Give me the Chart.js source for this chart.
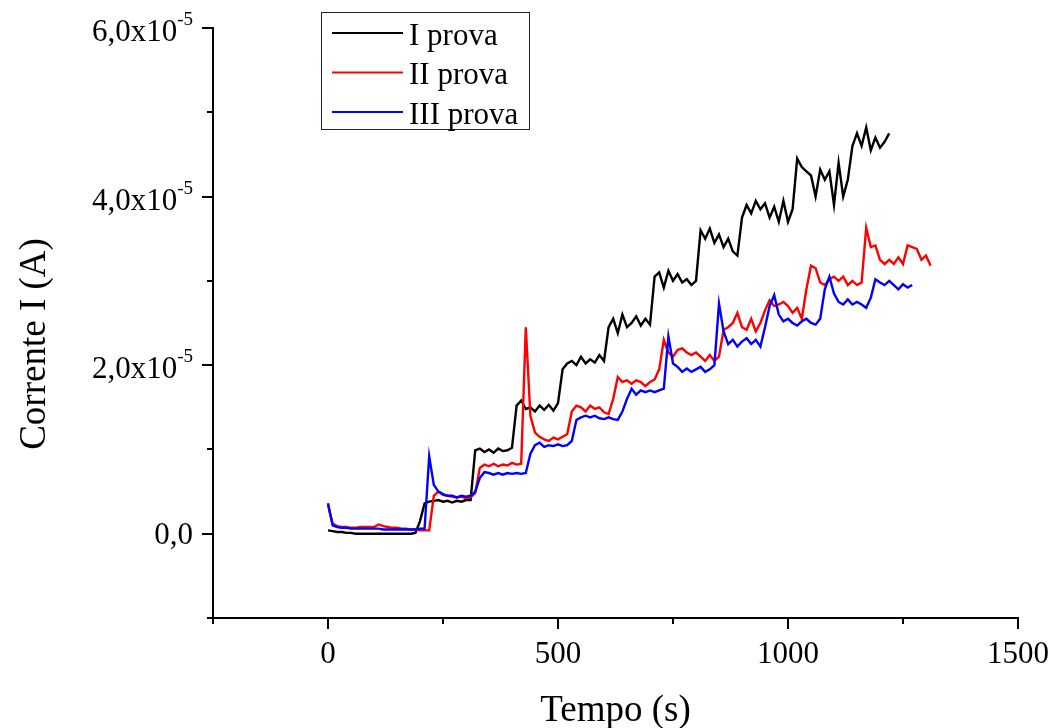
<!DOCTYPE html>
<html>
<head>
<meta charset="utf-8">
<script src="https://cdn.jsdelivr.net/npm/chart.js@4"></script>
<style>
  html, body { margin: 0; padding: 0; background: #fff; }
  #wrap { width: 1051px; height: 728px; }
</style>
</head>
<body>
<div id="wrap"><canvas id="chart" width="1051" height="728"></canvas></div>
<script>
// time (s), shared by the three runs
var tempo = [
  0, 10, 20, 30, 40, 50, 60, 70, 80, 90,
  100, 110, 120, 130, 140, 150, 160, 170, 180, 190,
  200, 210, 220, 230, 240, 250, 260, 270, 280, 290,
  300, 310, 320, 330, 340, 350, 360, 370, 380, 390,
  400, 410, 420, 430, 440, 450, 460, 470, 480, 490,
  500, 510, 520, 530, 540, 550, 560, 570, 580, 590,
  600, 610, 620, 630, 640, 650, 660, 670, 680, 690,
  700, 710, 720, 730, 740, 750, 760, 770, 780, 790,
  800, 810, 820, 830, 840, 850, 860, 870, 880, 890,
  900, 910, 920, 930, 940, 950, 960, 970, 980, 990,
  1000, 1010, 1020, 1030, 1040, 1050, 1060, 1070, 1080, 1090,
  1100, 1110, 1120, 1130, 1140, 1150, 1160, 1170, 1180, 1190,
  1200, 1210, 1220, 1230, 1240, 1250, 1260, 1270, 1280, 1290,
  1300, 1310
];
// corrente, in units of 1e-5 A
var provaI = [
  0.04, 0.03, 0.02, 0.02, 0.01, 0.01, 0.00, 0.00, 0.00, 0.00,
  0.00, 0.00, 0.00, 0.00, 0.00, 0.00, 0.00, 0.00, 0.00, 0.01,
  0.15, 0.36, 0.38, 0.39, 0.40, 0.38, 0.39, 0.37, 0.39, 0.38,
  0.40, 0.40, 0.99, 1.01, 0.97, 1.00, 0.96, 1.01, 0.98, 0.99,
  1.02, 1.52, 1.58, 1.48, 1.50, 1.45, 1.52, 1.47, 1.53, 1.46,
  1.55, 1.95, 2.02, 2.05, 2.00, 2.10, 2.02, 2.07, 2.03, 2.12,
  2.05, 2.45, 2.55, 2.38, 2.60, 2.45, 2.50, 2.58, 2.47, 2.55,
  2.48, 3.05, 3.10, 2.92, 3.12, 3.00, 3.08, 2.98, 3.02, 2.95,
  3.00, 3.60, 3.50, 3.62, 3.45, 3.55, 3.40, 3.50, 3.35, 3.30,
  3.75, 3.90, 3.80, 3.95, 3.85, 3.92, 3.75, 3.88, 3.70, 3.95,
  3.70, 3.85, 4.45, 4.35, 4.30, 4.25, 4.00, 4.32, 4.20, 4.30,
  3.90, 4.40, 4.00, 4.20, 4.60, 4.75, 4.60, 4.82, 4.55, 4.70,
  4.58, 4.65, 4.75
];
var provaII = [
  0.34, 0.12, 0.09, 0.08, 0.08, 0.07, 0.07, 0.08, 0.08, 0.08,
  0.08, 0.11, 0.09, 0.08, 0.07, 0.07, 0.06, 0.06, 0.05, 0.05,
  0.04, 0.04, 0.04, 0.45, 0.50, 0.46, 0.45, 0.44, 0.43, 0.44,
  0.42, 0.43, 0.48, 0.78, 0.82, 0.80, 0.83, 0.80, 0.82, 0.81,
  0.84, 0.82, 0.83, 2.45, 1.40, 1.20, 1.15, 1.12, 1.10, 1.14,
  1.12, 1.15, 1.18, 1.45, 1.52, 1.50, 1.45, 1.52, 1.48, 1.50,
  1.44, 1.42, 1.60, 1.86, 1.80, 1.82, 1.78, 1.82, 1.80, 1.75,
  1.80, 1.83, 1.95, 2.30, 2.15, 2.10, 2.18, 2.20, 2.15, 2.12,
  2.15, 2.10, 2.05, 2.12, 2.05, 2.10, 2.42, 2.45, 2.50, 2.62,
  2.45, 2.42, 2.55, 2.40, 2.50, 2.65, 2.77, 2.70, 2.72, 2.75,
  2.70, 2.62, 2.68, 2.55, 2.90, 3.18, 3.15, 2.98, 2.95, 3.02,
  3.05, 3.00, 3.05, 2.95, 3.00, 2.95, 2.98, 3.63, 3.40, 3.42,
  3.25, 3.20, 3.25, 3.20, 3.28, 3.20, 3.42, 3.40, 3.38, 3.25,
  3.30, 3.18
];
var provaIII = [
  0.36, 0.10, 0.08, 0.07, 0.07, 0.06, 0.06, 0.06, 0.06, 0.06,
  0.06, 0.06, 0.05, 0.05, 0.05, 0.05, 0.05, 0.05, 0.05, 0.05,
  0.06, 0.06, 0.92, 0.58, 0.50, 0.47, 0.45, 0.45, 0.43, 0.45,
  0.44, 0.45, 0.50, 0.66, 0.73, 0.72, 0.70, 0.72, 0.70, 0.72,
  0.71, 0.72, 0.71, 0.72, 0.95, 1.05, 1.08, 1.03, 1.05, 1.04,
  1.06, 1.04, 1.05, 1.10, 1.35, 1.38, 1.40, 1.38, 1.40, 1.37,
  1.36, 1.38, 1.36, 1.35, 1.45, 1.60, 1.72, 1.65, 1.70, 1.68,
  1.70, 1.68, 1.70, 1.72, 2.34, 2.02, 1.98, 1.92, 1.96, 1.92,
  1.95, 1.98, 1.92, 1.95, 2.00, 2.73, 2.40, 2.25, 2.30, 2.22,
  2.28, 2.32, 2.25, 2.30, 2.22, 2.45, 2.70, 2.83, 2.60, 2.52,
  2.55, 2.50, 2.47, 2.52, 2.55, 2.50, 2.48, 2.55, 2.90, 3.05,
  2.85, 2.75, 2.72, 2.78, 2.72, 2.75, 2.72, 2.68, 2.80, 3.02,
  2.98, 2.95, 3.00, 2.95, 2.90, 2.96, 2.92, 2.95
];
var seriesNames = ["I prova", "II prova", "III prova"];
var seriesColors = ["#000000", "#ff0000", "#0000ff"];
var xTicks = [-250, 0, 250, 500, 750, 1000, 1250, 1500];
var xLabels = {0: "0", 500: "500", 1000: "1000", 1500: "1500"};
var yTicks = [-1e-5, 0, 1e-5, 2e-5, 3e-5, 4e-5, 5e-5, 6e-5];
var yLabels = {"0": ["0,0", ""], "2": ["2,0x10", "-5"], "4": ["4,0x10", "-5"], "6": ["6,0x10", "-5"]};
var xTitle = "Tempo (s)";
var yTitle = "Corrente I (A)";

var FONT = "'Liberation Serif', 'Times New Roman', serif";

function toPoints(vals){
  var pts = [];
  vals.forEach(function(v, i){
    pts.push({x: tempo[i], y: v*1e-5});
  });
  return pts;
}

var allSeries = [provaI, provaII, provaIII];
var datasets = [];
allSeries.forEach(function(s, i){
  datasets.push({
    label: seriesNames[i],
    data: toPoints(s),
    borderColor: seriesColors[i],
    backgroundColor: seriesColors[i],
    borderWidth: 2.4,
    pointRadius: 0,
    tension: 0,
    fill: false,
    order: 3-i
  });
});

// axis ticks, labels, titles and legend box, drawn in Origin style
var originStyle = {
  id: "originStyle",
  afterDraw: function(chart){
    var ctx = chart.ctx;
    var xs = chart.scales.x, ys = chart.scales.y;
    var area = chart.chartArea;
    ctx.save();
    ctx.strokeStyle = "#000";
    ctx.fillStyle = "#000";
    ctx.lineWidth = 2;
    // x ticks
    xTicks.forEach(function(v){
      var px = Math.round(xs.getPixelForValue(v));
      var len = (v % 500 === 0) ? 11 : 6;
      ctx.beginPath();
      ctx.moveTo(px, area.bottom);
      ctx.lineTo(px, area.bottom + len);
      ctx.stroke();
      if(xLabels[v] !== undefined){
        ctx.font = "31px " + FONT;
        ctx.textAlign = "center";
        ctx.textBaseline = "alphabetic";
        ctx.fillText(xLabels[v], px, 663);
      }
    });
    // y ticks
    yTicks.forEach(function(v){
      var py = Math.round(ys.getPixelForValue(v));
      var k = Math.round(v*1e5);
      var len = (k % 2 === 0) ? 11 : 6;
      ctx.beginPath();
      ctx.moveTo(area.left, py);
      ctx.lineTo(area.left - len, py);
      ctx.stroke();
      var lab = yLabels[String(k)];
      if(lab){
        var right = 193;
        ctx.textBaseline = "alphabetic";
        ctx.font = "19px " + FONT;
        var supW = lab[1] ? ctx.measureText(lab[1]).width : 0;
        if(lab[1]){
          ctx.textAlign = "left";
          ctx.fillText(lab[1], right - supW, py - 3);
        }
        ctx.font = "31px " + FONT;
        ctx.textAlign = "right";
        ctx.fillText(lab[0], right - supW, py + (lab[1] ? 13 : 10));
      }
    });
    // titles
    ctx.font = "37px " + FONT;
    ctx.textAlign = "center";
    ctx.textBaseline = "alphabetic";
    ctx.fillText(xTitle, (area.left + area.right)/2, 721);
    ctx.save();
    ctx.translate(45, 344);
    ctx.rotate(-Math.PI/2);
    ctx.fillText(yTitle, 0, 0);
    ctx.restore();
    // legend
    ctx.lineWidth = 1;
    ctx.strokeStyle = "#222";
    ctx.strokeRect(321.5, 12.5, 208, 117);
    var rows = [33, 72.5, 112];
    ctx.font = "31px " + FONT;
    ctx.textAlign = "left";
    chart.data.datasets.forEach(function(ds, i){
      ctx.strokeStyle = ds.borderColor;
      ctx.lineWidth = 2;
      ctx.beginPath();
      ctx.moveTo(332, rows[i]);
      ctx.lineTo(403, rows[i]);
      ctx.stroke();
      ctx.fillStyle = "#000";
      ctx.fillText(ds.label, 409, rows[i] + 11.5);
    });
    ctx.restore();
  }
};

var chart = new Chart(document.getElementById("chart").getContext("2d"), {
  type: "line",
  data: {datasets: datasets},
  options: {
    responsive: false,
    animation: false,
    devicePixelRatio: 1,
    layout: {padding: {left: 0, right: 33, top: 28, bottom: 0}},
    plugins: {legend: {display: false}, tooltip: {enabled: false}},
    scales: {
      x: {
        type: "linear",
        min: -250,
        max: 1500,
        afterBuildTicks: function(scale){
          scale.ticks = xTicks.map(function(v){ return {value: v}; });
        },
        afterFit: function(scale){ scale.height = 110; },
        grid: {display: false},
        border: {display: true, color: "#000", width: 2},
        ticks: {display: false}
      },
      y: {
        type: "linear",
        min: -1e-5,
        max: 6e-5,
        afterBuildTicks: function(scale){
          scale.ticks = yTicks.map(function(v){ return {value: v}; });
        },
        afterFit: function(scale){ scale.width = 213; },
        grid: {display: false},
        border: {display: true, color: "#000", width: 2},
        ticks: {display: false}
      }
    }
  },
  plugins: [originStyle]
});
</script>
</body>
</html>
